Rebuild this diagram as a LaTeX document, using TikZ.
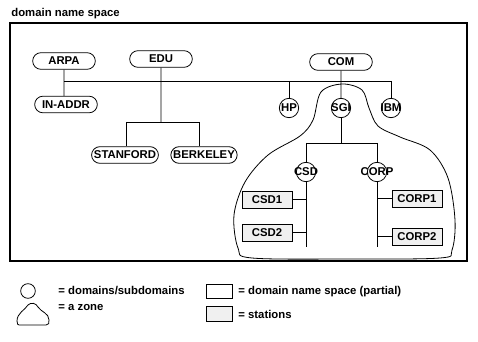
\documentclass[tikz,border=0pt]{standalone}
\usepackage{fontspec}
\setmainfont{Liberation Sans}
\usetikzlibrary{shapes.misc}

\begin{document}
\begin{tikzpicture}[x=0.75pt, y=-0.75pt, line width=0.6pt,
    every node/.style={font=\fontsize{8.5}{9}\selectfont\bfseries},
    dom/.style={draw, rounded rectangle, fill=white, minimum width=49pt, minimum height=12.5pt, inner sep=1pt},
    sub/.style={draw, circle, fill=white, minimum size=14.5pt, inner sep=0pt},
    station/.style={draw, fill=gray!12, minimum width=37.5pt, minimum height=12.75pt, inner sep=1pt},
    lbl/.style={anchor=west, inner sep=0pt}]
    \useasboundingbox (0,0) rectangle (478,342);

    % Frame
    \node[lbl] (title) at (11,14) {domain name space};
    \draw[line width=1pt] (10,23) rectangle (467,261);

    % Zone of SGI
    \draw plot[smooth cycle, tension=0.55] coordinates {
        (342,84) (362,90) (369,108) (378,126) (400,137) (430,150)
        (448,178) (455,220) (452,250) (440,258) (348,259) (252,258)
        (238,248) (234,215) (245,182) (268,155) (300,136) (313,120) (321,92)};

    % Top level domains
    \node[dom] (arpa) at (64,61) {ARPA};
    \node[dom] (edu) at (161,59) {EDU};
    \node[dom] (com) at (341,62) {COM};
    \node[dom] (inaddr) at (66,104.5) {IN-ADDR};
    \node[dom] (stanford) at (125,155) {STANFORD};
    \node[dom] (berkeley) at (204,155) {BERKELEY};

    % Subdomains
    \node[sub, label=center:HP] (hp) at (289,108) {};
    \node[sub, label=center:SGI] (sgi) at (341,108) {};
    \node[sub, label=center:IBM] (ibm) at (391,108) {};
    \node[sub, label=center:CSD] (csd) at (306,172) {};
    \node[sub, label=center:CORP] (corp) at (377,172) {};

    % Stations
    \node[station] (csda) at (267,199.5) {CSD1};
    \node[station] (csdb) at (267,232.5) {CSD2};
    \node[station] (corpa) at (417,198.5) {CORP1};
    \node[station] (corpb) at (417,236.5) {CORP2};

    % Branch points
    \coordinate (barL) at (64,81);
    \coordinate (barR) at (391,81);
    \coordinate (eduK) at (161,122);
    \coordinate (eduL) at (126,122);
    \coordinate (eduR) at (199,122);
    \coordinate (sgiK) at (341,143);
    \coordinate (sgiL) at (306,143);
    \coordinate (sgiR) at (377,143);
    \coordinate (csdE) at (306,247);
    \coordinate (corpE) at (377,247);

    % Tree
    \draw (barL) -- (barR);
    \draw (arpa) -- (arpa |- inaddr.north);
    \draw (edu) -- (eduK);
    \draw (eduL) -- (eduR);
    \draw (eduL) -- (eduL |- stanford.north);
    \draw (eduR) -- (eduR |- berkeley.north);
    \draw (com) -- (sgi);
    \draw (hp |- barR) -- (hp);
    \draw (barR) -- (ibm);
    \draw (sgi) -- (sgiK);
    \draw (sgiL) -- (sgiR);
    \draw (sgiL) -- (csd);
    \draw (sgiR) -- (corp);
    \draw (csd) -- (csdE);
    \draw (corp) -- (corpE);
    \draw (csda) -- (csda -| csdE);
    \draw (csdb) -- (csdb -| csdE);
    \draw (corpa) -- (corpa -| corpE);
    \draw (corpb) -- (corpb -| corpE);

    % Legend
    \node[draw, circle, minimum size=11pt, inner sep=0pt] (keydom) at (28,291) {};
    \node[lbl] (keydomtxt) at (58,291) {= domains/subdomains};
    \draw (19,325) -- (46,325) .. controls (49,325) and (49,323) .. (49,320)
        .. controls (49,313) and (41,312) .. (38,307)
        .. controls (36,303) and (31,302) .. (28,305)
        .. controls (25,310) and (17,313) .. (17,321)
        .. controls (17,324) and (18,325) .. (19,325) -- cycle;
    \node[lbl] (keyzonetxt) at (58,308) {= a zone};
    \node[draw, minimum width=19pt, minimum height=11pt, inner sep=0pt] (keyspace) at (219.5,291.5) {};
    \node[lbl] (keyspacetxt) at (238,291.5) {= domain name space (partial)};
    \node[draw, fill=gray!12, minimum width=19pt, minimum height=11.5pt, inner sep=0pt] (keystat) at (219.5,314) {};
    \node[lbl] (keystattxt) at (238,314) {= stations};
\end{tikzpicture}
\end{document}
